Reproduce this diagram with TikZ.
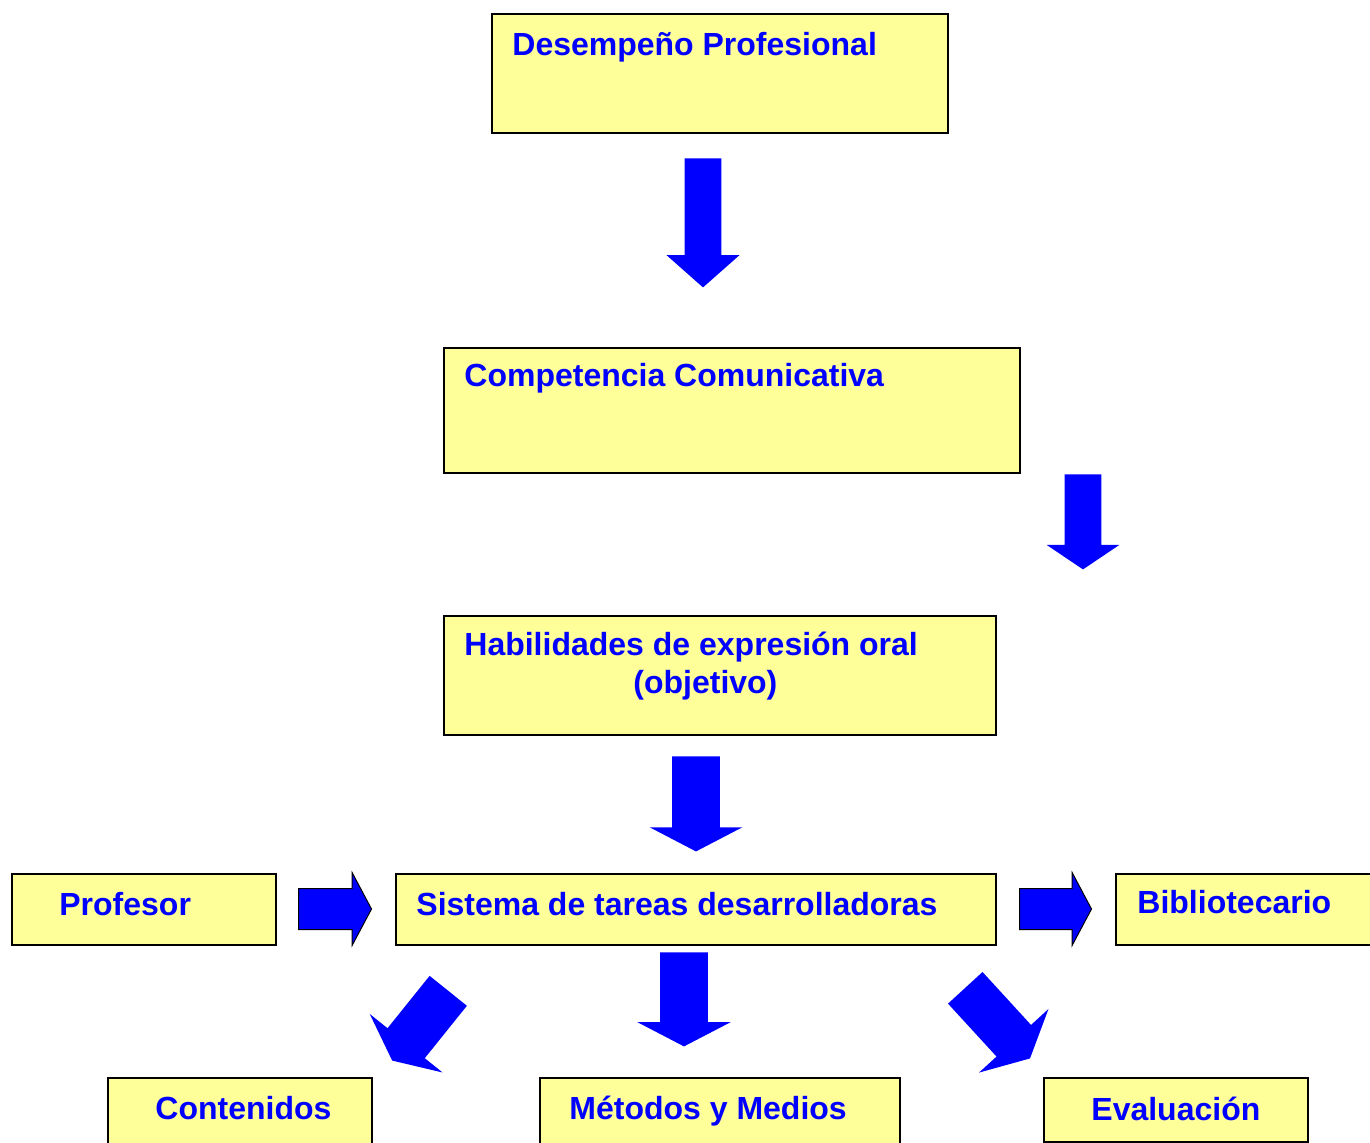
\documentclass[tikz,border=0pt]{standalone}
\usepackage{fontspec}
\setmainfont{Liberation Sans}
\usetikzlibrary{shapes.arrows}
\definecolor{amarillo}{HTML}{FFFF99}
\definecolor{azul}{HTML}{0000FF}

\begin{document}
\begin{tikzpicture}[
    x=0.5pt, y=-0.5pt,
    caja/.style={rectangle, draw=black, fill=amarillo, line width=0.9pt, anchor=north west, inner sep=0pt},
    texto/.style={anchor=base west, inner sep=0pt, text=azul, align=left, font=\fontsize{16}{19}\selectfont\bfseries},
    flecha/.style={single arrow, fill=azul, inner sep=0pt, minimum width=0pt, single arrow head indent=0pt, anchor=tail},
    flechab/.style={flecha, draw=black, line width=0.5pt}
]
\useasboundingbox (0,0) rectangle (1370,1142);

% Cajas
\node[caja, minimum width=228pt, minimum height=59.5pt] (des) at (491,13) {};
\node[caja, minimum width=288pt, minimum height=62.5pt] (comp) at (443,347) {};
\node[caja, minimum width=276pt, minimum height=59.5pt] (hab) at (443,615) {};
\node[caja, minimum width=132pt, minimum height=35.5pt] (prof) at (11,873) {};
\node[caja, minimum width=300pt, minimum height=35.5pt] (sis) at (395,873) {};
\node[caja, minimum width=135pt, minimum height=35.5pt] (bib) at (1115,873) {};
\node[caja, minimum width=132pt, minimum height=40pt] (cont) at (107,1077) {};
\node[caja, minimum width=180pt, minimum height=40pt] (met) at (539,1077) {};
\node[caja, minimum width=132pt, minimum height=32pt] (eva) at (1043,1077) {};

% Textos
\node[texto] (tdes) at (512,55) {Desempeño Profesional};
\node[texto] (tcomp) at (464,386) {Competencia Comunicativa};
\node[texto] (thab) at (464,693) {Habilidades de expresión oral\\\hspace*{84.5pt}(objetivo)};
\node[texto] (tprof) at (59,915) {Profesor};
\node[texto] (tsis) at (416,915) {Sistema de tareas desarrolladoras};
\node[texto] (tbib) at (1137,913) {Bibliotecario};
\node[texto] (tcont) at (155,1119) {Contenidos};
\node[texto] (tmet) at (569,1119) {Métodos y Medios};
\node[texto] (teva) at (1091,1120) {Evaluación};

% Flechas
\node[flecha, rotate=-90, minimum height=64.5pt, inner ysep=9pt, single arrow head extend=9pt, single arrow tip angle=97] (f1) at (703,158) {};
\node[flecha, rotate=-90, minimum height=47.5pt, inner ysep=9pt, single arrow head extend=9pt, single arrow tip angle=112] (f2) at (1083,474) {};
\node[flecha, rotate=-90, minimum height=47.5pt, inner ysep=11.75pt, single arrow head extend=11.25pt, single arrow tip angle=125] (f3) at (696,756) {};
\node[flechab, minimum height=36.5pt, inner ysep=10pt, single arrow head extend=8pt, single arrow tip angle=124] (f4) at (298,909) {};
\node[flechab, minimum height=36pt, inner ysep=10pt, single arrow head extend=8pt, single arrow tip angle=124] (f5) at (1019,909) {};
\node[flecha, rotate=231.2, minimum height=44.75pt, inner ysep=11.75pt, single arrow head extend=11.4pt, single arrow tip angle=129] (f6) at (448.5,990.5) {};
\node[flecha, rotate=-90, minimum height=47pt, inner ysep=11.75pt, single arrow head extend=11.5pt, single arrow tip angle=125] (f7) at (684,952) {};
\node[flecha, rotate=-47.5, minimum height=47.9pt, inner ysep=11.5pt, single arrow head extend=11.85pt, single arrow tip angle=126] (f8) at (965,987.5) {};

\end{tikzpicture}
\end{document}
